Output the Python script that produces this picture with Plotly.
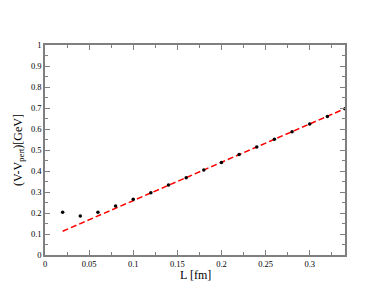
import plotly.graph_objects as go

# lattice points
L_fm = [0.02, 0.04, 0.06, 0.08, 0.10, 0.12, 0.14, 0.16, 0.18,
        0.20, 0.22, 0.24, 0.26, 0.28, 0.30, 0.32, 0.34]
V_sub = [0.203, 0.186, 0.203, 0.233, 0.265, 0.297, 0.333, 0.368, 0.405,
         0.441, 0.478, 0.514, 0.551, 0.587, 0.624, 0.660, 0.697]

# linear fit line (endpoints)
fit_L = [0.02, 0.34]
fit_V = [0.113, 0.697]

x_ticks = [0, 0.05, 0.1, 0.15, 0.2, 0.25, 0.3]
y_ticks = [0, 0.1, 0.2, 0.3, 0.4, 0.5, 0.6, 0.7, 0.8, 0.9, 1]

serif = "Liberation Serif"

fig = go.Figure()
fig.add_trace(go.Scatter(x=fit_L, y=fit_V, mode="lines",
                         line=dict(color="#ff0000", width=1.5, dash="6px,3px")))
fig.add_trace(go.Scatter(x=L_fm, y=V_sub, mode="markers",
                         marker=dict(color="black", size=3.5)))

axis_common = dict(
    showgrid=False, zeroline=False, showline=True, linecolor="#7f7f7f",
    linewidth=1.5, mirror="ticks", ticks="inside", ticklen=5,
    tickcolor="#7f7f7f", tickwidth=1, automargin=False,
    tickfont=dict(family=serif, size=8.5, color="black"),
)

fig.update_xaxes(range=[0, 0.34], tickvals=x_ticks,
                 ticktext=[f"{v:g}" for v in x_ticks],
                 minor=dict(dtick=0.025, ticks="inside", ticklen=3,
                            tickcolor="#7f7f7f"),
                 **axis_common)
fig.update_yaxes(range=[0, 1], tickvals=y_ticks,
                 ticktext=[f"{v:g}" for v in y_ticks],
                 minor=dict(dtick=0.05, ticks="inside", ticklen=3,
                            tickcolor="#7f7f7f"),
                 title=dict(text="(V-V<sub>pert</sub>)[GeV]", standoff=6,
                            font=dict(family=serif, size=12, color="black")),
                 **axis_common)

# x title sits tight under the tick labels, as in the original
fig.add_annotation(text="L [fm]", xref="paper", yref="paper", x=0.5, y=0,
                   yshift=-11, yanchor="top", showarrow=False,
                   font=dict(family=serif, size=12, color="black"))

fig.update_layout(width=388, height=300, showlegend=False,
                  margin=dict(l=37, r=51, t=37, b=53),
                  plot_bgcolor="white", paper_bgcolor="white")

fig.write_html("out.html")
